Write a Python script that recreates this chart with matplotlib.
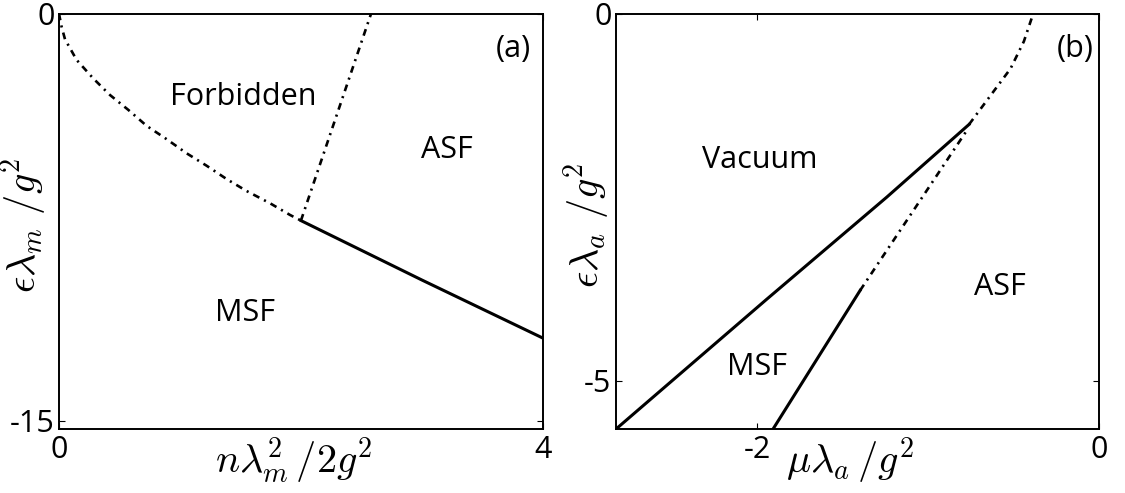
import numpy as np
import matplotlib
matplotlib.use("Agg")
import matplotlib.pyplot as plt

plt.rcParams["font.family"] = ["Open Sans", "DejaVu Sans"]
plt.rcParams["mathtext.fontset"] = "cm"

# --- (a) molecular phase boundaries, n*lam_m^2/2g^2 vs eps*lam_m/g^2 ---
forbid_x = [0.0, 0.022, 0.050, 0.146, 0.283, 0.421, 0.573, 0.725, 0.890,
            1.055, 1.221, 1.386, 1.551, 1.744, 1.909, 2.0]
forbid_y = [0.0, -0.49, -0.95, -1.71, -2.39, -3.00, -3.55, -4.14, -4.63,
            -5.15, -5.61, -6.10, -6.54, -6.99, -7.42, -7.63]
asf_edge_x = [2.0, 2.58]
asf_edge_y = [-7.63, 0.0]
msf_asf_x = [2.0, 3.0, 4.0]
msf_asf_y = [-7.63, -9.82, -11.96]

# --- (b) atomic side, mu*lam_a/g^2 vs eps*lam_a/g^2 ---
vac_x = [-2.83, -1.946, -1.243, -0.761]
vac_y = [-5.66, -3.89, -2.50, -1.51]
vac_ext_x = [-0.761, -0.63, -0.518, -0.44, -0.385]
vac_ext_y = [-1.51, -1.10, -0.75, -0.38, 0.0]
msf_b_x = [-1.907, -1.399]
msf_b_y = [-5.65, -3.77]
msf_ext_x = [-1.399, -0.765]
msf_ext_y = [-3.77, -1.56]

dashdot = (0, (2.6, 2.0, 0.8, 2.0))
lw_solid = 2.2
lw_dash = 1.9
fs = 22
fs_lab = 29

fig = plt.figure(figsize=(11.25, 4.93), dpi=100)
ax1 = fig.add_axes([0.0524, 0.1292, 0.4302, 0.8434])
ax2 = fig.add_axes([0.5473, 0.1292, 0.4296, 0.8434])

ax1.plot(forbid_x, forbid_y, color="k", lw=lw_dash, linestyle=dashdot)
ax1.plot(asf_edge_x, asf_edge_y, color="k", lw=lw_dash, linestyle=dashdot)
ax1.plot(msf_asf_x, msf_asf_y, color="k", lw=lw_solid)
ax1.set_xlim(0, 4)
ax1.set_ylim(-15.32, 0)
ax1.set_xticks([0, 4])
ax1.set_yticks([-15, 0])
ax1.set_xticklabels(["0", "4"])
ax1.set_yticklabels(["-15", "0"])
ax1.text(1.52, -3.08, "Forbidden", fontsize=fs, ha="center", va="center")
ax1.text(3.21, -5.03, "ASF", fontsize=fs, ha="center", va="center")
ax1.text(1.54, -11.03, "MSF", fontsize=fs, ha="center", va="center")
ax1.text(0.938, 0.915, "(a)", transform=ax1.transAxes, fontsize=fs,
         ha="center", va="center")
ax1.set_xlabel(r"$n\lambda_m^2\,/2g^2$", fontsize=fs_lab)
ax1.set_ylabel(r"$\epsilon\lambda_m\ /g^2$", fontsize=fs_lab)
ax1.xaxis.set_label_coords(0.486, -0.015)
ax1.yaxis.set_label_coords(-0.02, 0.49)

ax2.plot(vac_x, vac_y, color="k", lw=lw_solid)
ax2.plot(vac_ext_x, vac_ext_y, color="k", lw=lw_dash, linestyle=dashdot)
ax2.plot(msf_b_x, msf_b_y, color="k", lw=lw_solid)
ax2.plot(msf_ext_x, msf_ext_y, color="k", lw=lw_dash, linestyle=dashdot)
ax2.set_xlim(-2.83, 0)
ax2.set_ylim(-5.66, 0)
ax2.set_xticks([-2, 0])
ax2.set_yticks([-5, 0])
ax2.set_xticklabels(["-2", "0"])
ax2.set_yticklabels(["-5", "0"])
ax2.text(-1.985, -2.0, "Vacuum", fontsize=fs, ha="center", va="center")
ax2.text(-2.005, -4.81, "MSF", fontsize=fs, ha="center", va="center")
ax2.text(-0.58, -3.72, "ASF", fontsize=fs, ha="center", va="center")
ax2.text(0.95, 0.915, "(b)", transform=ax2.transAxes, fontsize=fs,
         ha="center", va="center")
ax2.set_xlabel(r"$\mu\lambda_a\,/g^2$", fontsize=fs_lab)
ax2.set_ylabel(r"$\epsilon\lambda_a\ /g^2$", fontsize=fs_lab)
ax2.xaxis.set_label_coords(0.485, -0.015)
ax2.yaxis.set_label_coords(-0.008, 0.49)

for ax in (ax1, ax2):
    for s in ax.spines.values():
        s.set_linewidth(1.4)
    ax.tick_params(direction="in", top=True, right=True, length=4, width=0.8,
                   labelsize=fs, pad=3)
    ax.tick_params(axis="x", pad=4)

fig.savefig("out.png", dpi=100)
